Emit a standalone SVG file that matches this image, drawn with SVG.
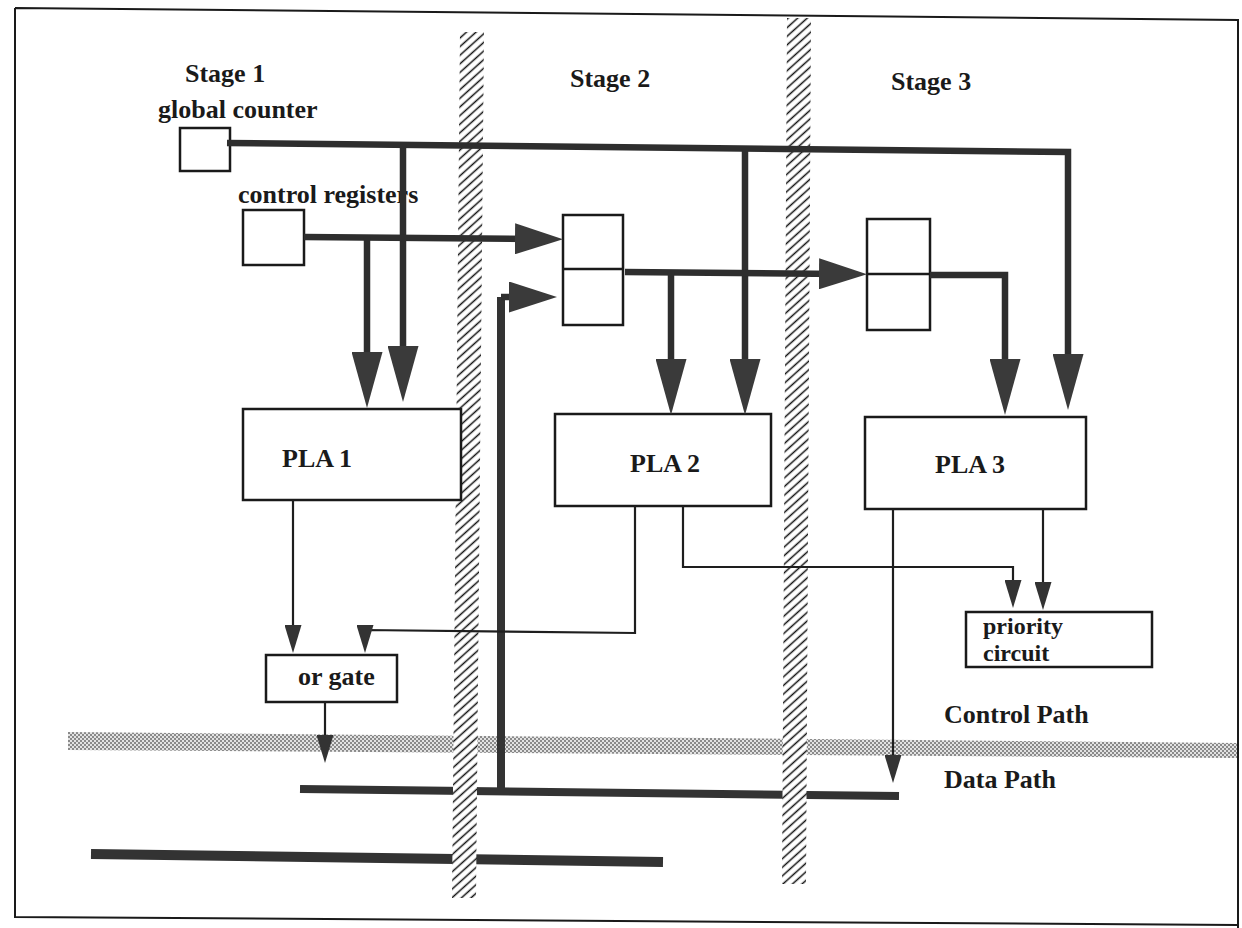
<svg xmlns="http://www.w3.org/2000/svg" width="1242" height="928" viewBox="0 0 1242 928">
<style>
.t{font-family:"Liberation Serif","DejaVu Serif",serif;font-weight:bold;font-size:26px;fill:#1a1a1a}
.ts{font-family:"Liberation Serif","DejaVu Serif",serif;font-weight:bold;font-size:24px;fill:#1a1a1a}
.box{fill:#fff;stroke:#1a1a1a;stroke-width:2.5}
.thick{fill:none;stroke:#2e2e2e;stroke-width:6.5;stroke-linejoin:miter}
.thin{fill:none;stroke:#1e1e1e;stroke-width:2.2}
.bus{fill:none;stroke:#333;stroke-linecap:butt}
.frame{fill:none;stroke:#1a1a1a;stroke-width:2}
</style>
<defs>
<pattern id="hatch" width="20" height="6.4" patternUnits="userSpaceOnUse" patternTransform="rotate(-42)">
<rect width="20" height="6.4" fill="#fff"/>
<line x1="0" y1="3.2" x2="20" y2="3.2" stroke="#111" stroke-width="1.5"/>
</pattern>
<pattern id="dots" width="4" height="4" patternUnits="userSpaceOnUse">
<rect width="4" height="4" fill="#e2e2e2"/>
<rect width="2" height="2" fill="#8a8a8a"/>
<rect x="2" y="2" width="2" height="2" fill="#8a8a8a"/>
</pattern>
<marker id="big" markerUnits="userSpaceOnUse" viewBox="0 0 56 31" refX="26" refY="15.5" markerWidth="56" markerHeight="31" orient="auto">
<path d="M0,0 L56,15.5 L0,31 Z" fill="#3a3a3a"/>
</marker>
<marker id="side" markerUnits="userSpaceOnUse" viewBox="0 0 48 31" refX="22" refY="15.5" markerWidth="48" markerHeight="31" orient="auto">
<path d="M0,0 L48,15.5 L0,31 Z" fill="#3a3a3a"/>
</marker>
<marker id="small" markerUnits="userSpaceOnUse" viewBox="0 0 28 17" refX="12" refY="8.5" markerWidth="28" markerHeight="17" orient="auto">
<path d="M0,0 L28,8.5 L0,17 Z" fill="#333"/>
</marker>
</defs>
<rect width="1242" height="928" fill="#fff"/>
<g id="frame">
<path class="frame" d="M15,8 L1238,20 L1238,928 M15,8 L15,917 L1238,925"/>
</g>
<g id="divider">
<polygon points="68,732 1237,743 1237,758 68,750" fill="url(#dots)"/>
</g>
<g id="data-buses">
<line class="bus" x1="300" y1="789" x2="899" y2="796" stroke-width="8"/>
<line class="bus" x1="91" y1="854" x2="663" y2="862" stroke-width="10"/>
<line class="bus" x1="501" y1="793" x2="501" y2="297" stroke-width="8"/>
</g>
<g id="stage-barriers">
<polygon points="460,32 484,32 476,898 452,898" fill="url(#hatch)"/>
<polygon points="787,18 811,18 806,884 782,884" fill="url(#hatch)"/>
</g>
<g id="labels">
<text class="t" x="185" y="82">Stage 1</text>
<text class="t" x="158" y="118">global counter</text>
<text class="t" x="238" y="203">control registers</text>
<text class="t" x="570" y="87">Stage 2</text>
<text class="t" x="891" y="90">Stage 3</text>
<text class="t" x="944" y="723">Control Path</text>
<text class="t" x="944" y="788">Data Path</text>
</g>
<g id="global-counter"><rect class="box" x="180" y="128" width="50" height="43"/></g>
<g id="control-registers"><rect class="box" x="243" y="210" width="61" height="55"/></g>
<g id="register-2"><rect class="box" x="563" y="215" width="60" height="110"/><line x1="563" y1="269" x2="623" y2="269" stroke="#1a1a1a" stroke-width="2.5"/></g>
<g id="register-3"><rect class="box" x="867" y="219" width="63" height="111"/><line x1="867" y1="274" x2="930" y2="274" stroke="#1a1a1a" stroke-width="2.5"/></g>
<g id="pla1"><rect class="box" x="243" y="409" width="218" height="91"/><text class="t" x="282" y="467">PLA 1</text></g>
<g id="pla2"><rect class="box" x="555" y="414" width="216" height="92"/><text class="t" x="630" y="472">PLA 2</text></g>
<g id="pla3"><rect class="box" x="865" y="417" width="221" height="92"/><text class="t" x="935" y="473">PLA 3</text></g>
<g id="or-gate"><rect class="box" x="266" y="655" width="131" height="47"/><text class="t" x="298" y="685">or gate</text></g>
<g id="priority-circuit"><rect class="box" x="966" y="612" width="186" height="55"/><text class="ts" x="983" y="634">priority</text><text class="ts" x="983" y="661">circuit</text></g>
<g id="connectors">
<path class="thick" d="M227,143 L1068,152 V380" marker-end="url(#big)"/>
<path class="thick" d="M403,145 V372" marker-end="url(#big)"/>
<path class="thick" d="M745,149 V385" marker-end="url(#big)"/>
<path class="thick" d="M304,237 L537,239" marker-end="url(#side)"/>
<path class="thick" d="M367,237 V378" marker-end="url(#big)"/>
<path class="thick" d="M625,272 L841,274" marker-end="url(#side)"/>
<path class="thick" d="M671,272 V385" marker-end="url(#big)"/>
<path class="thick" d="M930,275 H1005 V385" marker-end="url(#big)"/>
<path class="thick" d="M501,297 H531" marker-end="url(#side)"/>
<path class="thin" d="M293,500 V637" marker-end="url(#small)"/>
<path class="thin" d="M635,506 V633 L365,630 V637" marker-end="url(#small)"/>
<path class="thin" d="M325,702 V747" marker-end="url(#small)"/>
<path class="thin" d="M683,506 V567 H1013 V592" marker-end="url(#small)"/>
<path class="thin" d="M1043,509 V594" marker-end="url(#small)"/>
<path class="thin" d="M893,509 V767" marker-end="url(#small)"/>
</g>
</svg>
